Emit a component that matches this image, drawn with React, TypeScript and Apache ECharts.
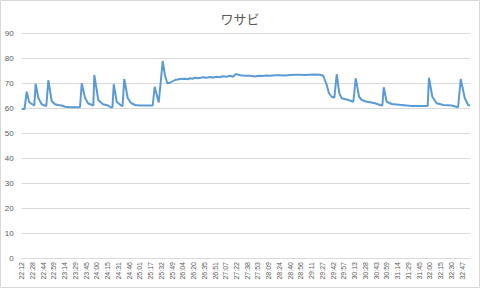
import React, { useEffect, useRef } from "react";
import * as echarts from "echarts";

const titleText = "ワサビ";

const timeLabels = [
  "22:12", "22:28", "22:44", "22:59", "23:14", "23:29", "23:45", "24:00", "24:15", "24:31",
  "24:46", "25:01", "25:17", "25:32", "25:49", "26:04", "26:20", "26:35", "26:51", "27:07",
  "27:22", "27:38", "27:53", "28:09", "28:24", "28:40", "28:56", "29:11", "29:27", "29:42",
  "29:57", "30:13", "30:28", "30:43", "30:59", "31:14", "31:29", "31:45", "32:00", "32:15",
  "32:30", "32:47",
];

// sample positions, in units of the label spacing (0 = 22:12)
const samplePos = [
  0, 0.26, 0.47, 0.68, 0.87, 1.1, 1.17, 1.3, 1.55, 1.86,
  2.08, 2.29, 2.48, 2.79, 3.1, 3.38, 3.72, 4.03, 4.5, 5.43,
  5.59, 5.9, 6.17, 6.55, 6.67, 6.76, 7.13, 7.57, 8.04, 8.27,
  8.45, 8.57, 8.85, 9.25, 9.39, 9.55, 9.87, 10.18, 10.55, 11.01,
  12.2, 12.38, 12.76, 13.13, 13.34, 13.56, 13.81, 14.27, 14.74, 15.2,
  15.45, 15.67, 15.9, 16.14, 16.4, 16.88, 17.2, 17.53, 17.85, 18.16,
  18.45, 18.74, 19.05, 19.4, 19.67, 19.95, 20.33, 20.8, 21.26, 21.72,
  22.05, 22.37, 22.75, 23.12, 23.6, 24.05, 24.5, 24.98, 25.45, 25.91,
  26.4, 26.84, 27.3, 27.77, 28.08, 28.4, 28.61, 28.86, 29.11, 29.33,
  29.57, 29.8, 30.41, 30.88, 31.1, 31.41, 31.66, 32.12, 32.43, 32.9,
  33.36, 33.58, 33.71, 33.98, 34.45, 35.38, 36.31, 37.8, 37.92, 38.23,
  38.64, 39.26, 40.04, 40.63, 40.88, 41.25, 41.56, 41.74,
];

const sampleValues = [
  59.6, 59.6, 66.5, 62.5, 61.8, 61.2, 60.9, 69.7, 64, 61.5,
  61.1, 60.8, 71.1, 62.8, 61.5, 61.2, 61, 60.5, 60.3, 60.3,
  69.9, 64, 61.9, 61.2, 61, 73.2, 63.2, 61.5, 61, 60.3,
  60.3, 69.5, 62.5, 61, 60.8, 71.6, 64, 62, 61.2, 61,
  61, 68.5, 62.2, 78.8, 73, 69.9, 70.1, 71.2, 71.6, 71.7,
  71.5, 71.9, 71.7, 72.1, 71.9, 72.3, 72.1, 72.4, 72.2, 72.5,
  72.3, 72.7, 72.5, 72.9, 72.5, 73.6, 73.1, 72.9, 72.9, 72.6,
  72.9, 72.8, 73.0, 72.9, 73.1, 73.1, 73.0, 73.2, 73.3, 73.3,
  73.2, 73.3, 73.4, 73.3, 72.9, 69.2, 65.9, 64.5, 64.1, 73.5,
  65.9, 63.9, 63.2, 62.5, 71.9, 64.5, 63.2, 62.5, 62.3, 61.9,
  61.2, 61, 68.3, 62.5, 61.6, 61.2, 60.8, 60.8, 72.1, 64.5,
  61.9, 61.2, 61, 60.3, 71.6, 64, 61.2, 61,
];

const yTicks = [0, 10, 20, 30, 40, 50, 60, 70, 80, 90];

export default function App() {
  const ref = useRef<HTMLDivElement>(null);
  useEffect(() => {
    if (!ref.current) return;
    const chart = echarts.init(ref.current, undefined, { renderer: "svg" });
    const data = samplePos.map((p, i) => [p, sampleValues[i]]);
    chart.setOption({
      animation: false,
      backgroundColor: "#ffffff",
      title: {
        text: titleText,
        left: "center",
        top: 7,
        textStyle: {
          fontSize: 13,
          fontWeight: "normal",
          color: "#595959",
          fontFamily: "Noto Sans CJK JP",
        },
      },
      graphic: [
        {
          type: "rect",
          shape: { x: 0.5, y: 0.5, width: 479, height: 287 },
          style: { fill: "none", stroke: "#d9d9d9", lineWidth: 1 },
          silent: true,
        },
      ],
      grid: { left: 21.7, right: 10, top: 33, bottom: 30 },
      xAxis: {
        type: "value",
        min: 0,
        max: samplePos[samplePos.length - 1],
        interval: 1,
        axisLine: { show: true, lineStyle: { color: "#d9d9d9", width: 1 } },
        axisTick: { show: false },
        splitLine: { show: false },
        axisLabel: {
          rotate: 90,
          fontSize: 7,
          color: "#595959",
          margin: 4,
          showMaxLabel: false,
          fontFamily: "Liberation Sans",
          formatter: (v: number) => {
            const i = Math.round(v);
            return Math.abs(v - i) < 1e-6 && timeLabels[i] ? timeLabels[i] : "";
          },
        },
      },
      yAxis: {
        type: "value",
        min: yTicks[0],
        max: yTicks[yTicks.length - 1],
        interval: 10,
        axisLine: { show: false },
        axisTick: { show: false },
        splitLine: { lineStyle: { color: "#d9d9d9", width: 1 } },
        axisLabel: {
          fontSize: 8,
          color: "#595959",
          margin: 8,
          fontFamily: "Liberation Sans",
        },
      },
      series: [
        {
          type: "line",
          data,
          showSymbol: false,
          symbol: "none",
          lineStyle: { color: "#5b9bd5", width: 2 },
          itemStyle: { color: "#5b9bd5" },
        },
      ],
    });
    return () => chart.dispose();
  }, []);
  return (
    <div
      ref={ref}
      style={{ position: "fixed", left: 0, top: 0, width: 480, height: 288 }}
    />
  );
}
